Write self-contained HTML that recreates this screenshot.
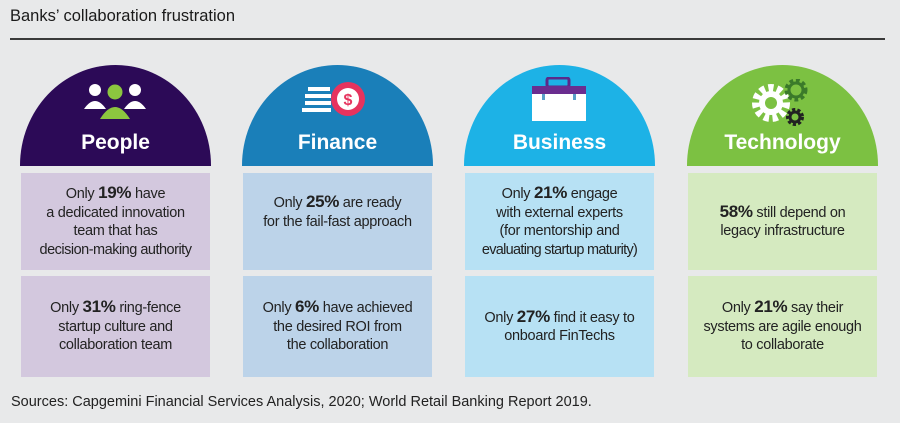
<!DOCTYPE html>
<html><head><style>
body{margin:0;width:900px;height:423px;background:#e8e9ea;font-family:"Liberation Sans",sans-serif;position:relative;overflow:hidden;color:#222}
.t{position:absolute;left:10px;top:7px;font-size:16.5px;color:#1a1a1a}
.ln{position:absolute;left:10px;top:38px;width:875px;height:2px;background:#3a3a3a}
.col{position:absolute;top:65px;width:191px}
.dome{height:101px;border-radius:96px 96px 0 0/101px 101px 0 0;position:relative}
.dome .lab{position:absolute;left:0;right:0;top:66px;text-align:center;color:#fff;font-weight:bold;font-size:21px}
.box{position:absolute;left:1px;width:189px;display:flex;align-items:center;justify-content:center;text-align:center;font-size:14.5px;line-height:18.5px;letter-spacing:-0.3px}
.box>div{width:100%}
.b1{top:108px;height:97px}.b2{top:211px;height:101px}
.box b{font-size:17px}
.src{position:absolute;left:11px;top:394px;font-size:14.5px;color:#222}
</style></head><body>
<div class="t">Banks’ collaboration frustration</div>
<div class="ln"></div>

<div class="col" style="left:20px">
<div class="dome" style="background:#2c0a57">
<svg style="position:absolute;left:63px;top:16px" width="64" height="40" viewBox="0 0 64 40">
<circle cx="12" cy="9" r="6" fill="#fff"/><path d="M1 28 q11-16 22 0z" fill="#fff"/>
<circle cx="52" cy="9" r="6" fill="#fff"/><path d="M41 28 q11-16 22 0z" fill="#fff"/>
<circle cx="32" cy="11" r="7.5" fill="#8cc63f"/><path d="M17 38 q15-24 30 0z" fill="#8cc63f"/>
</svg>
<div class="lab">People</div></div>
<div class="box b1" style="background:#d3c8de"><div>Only <b>19%</b> have<br>a dedicated innovation<br>team that has<br><span style="letter-spacing:-0.5px">decision-making authority</span></div></div>
<div class="box b2" style="background:#d3c8de"><div>Only <b>31%</b> ring-fence<br>startup culture and<br>collaboration team</div></div>
</div>

<div class="col" style="left:242px">
<div class="dome" style="background:#1a7fb9">
<svg style="position:absolute;left:60px;top:16px" width="70" height="42" viewBox="0 0 70 42">
<rect x="6" y="6" width="22" height="4" fill="#fff"/><rect x="3" y="13" width="26" height="4" fill="#fff"/><rect x="3" y="20" width="26" height="4" fill="#fff"/><rect x="0" y="27" width="29" height="4" fill="#fff"/>
<circle cx="46" cy="18" r="17" fill="#e6335e"/><circle cx="46" cy="18" r="11" fill="#fff"/>
<text x="46" y="24" text-anchor="middle" font-size="16" font-weight="bold" fill="#e6335e" font-family="Liberation Sans">$</text>
</svg>
<div class="lab">Finance</div></div>
<div class="box b1" style="background:#bcd3e9"><div>Only <b>25%</b> are ready<br>for the fail-fast approach<br><br></div></div>
<div class="box b2" style="background:#bcd3e9"><div>Only <b>6%</b> have achieved<br>the desired ROI from<br>the collaboration</div></div>
</div>

<div class="col" style="left:464px">
<div class="dome" style="background:#1db2e6">
<svg style="position:absolute;left:66px;top:12px" width="58" height="44" viewBox="0 0 58 44">
<rect x="17" y="1" width="22" height="9" rx="2" fill="none" stroke="#5a2a8a" stroke-width="3"/>
<rect x="2" y="9" width="54" height="8" fill="#6a2d8f"/>
<rect x="2" y="17" width="54" height="27" fill="#fff"/>
<rect x="12" y="17" width="3" height="6" fill="#5aa0c8"/><rect x="43" y="17" width="3" height="6" fill="#5aa0c8"/>
</svg>
<div class="lab">Business</div></div>
<div class="box b1" style="background:#b7e1f4"><div>Only <b>21%</b> engage<br>with external experts<br>(for mentorship and<br><span style="letter-spacing:-0.7px">evaluating startup maturity)</span></div></div>
<div class="box b2" style="background:#b7e1f4"><div>Only <b>27%</b> find it easy to<br>onboard FinTechs</div></div>
</div>

<div class="col" style="left:687px">
<div class="dome" style="background:#7cc142">
<svg style="position:absolute;left:62px;top:14px" width="66" height="50" viewBox="0 0 66 50">
<circle cx="22" cy="24" r="15" fill="none" stroke="#fff" stroke-width="8" stroke-dasharray="5 3.5"/>
<circle cx="22" cy="24" r="12" fill="#fff"/><circle cx="22" cy="24" r="6" fill="#7cc142"/>
<circle cx="47" cy="11" r="9" fill="none" stroke="#3b7a2a" stroke-width="5" stroke-dasharray="3.5 2.5"/>
<circle cx="47" cy="11" r="7" fill="none" stroke="#3b7a2a" stroke-width="3"/>
<circle cx="46" cy="38" r="7" fill="none" stroke="#222" stroke-width="4" stroke-dasharray="3 2"/>
<circle cx="46" cy="38" r="5" fill="none" stroke="#222" stroke-width="3"/>
</svg>
<div class="lab">Technology</div></div>
<div class="box b1" style="background:#d5eac0"><div><b>58%</b> still depend on<br>legacy infrastructure</div></div>
<div class="box b2" style="background:#d5eac0"><div>Only <b>21%</b> say their<br>systems are agile enough<br>to collaborate</div></div>
</div>

<div class="src">Sources: Capgemini Financial Services Analysis, 2020; World Retail Banking Report 2019.</div>
</body></html>
